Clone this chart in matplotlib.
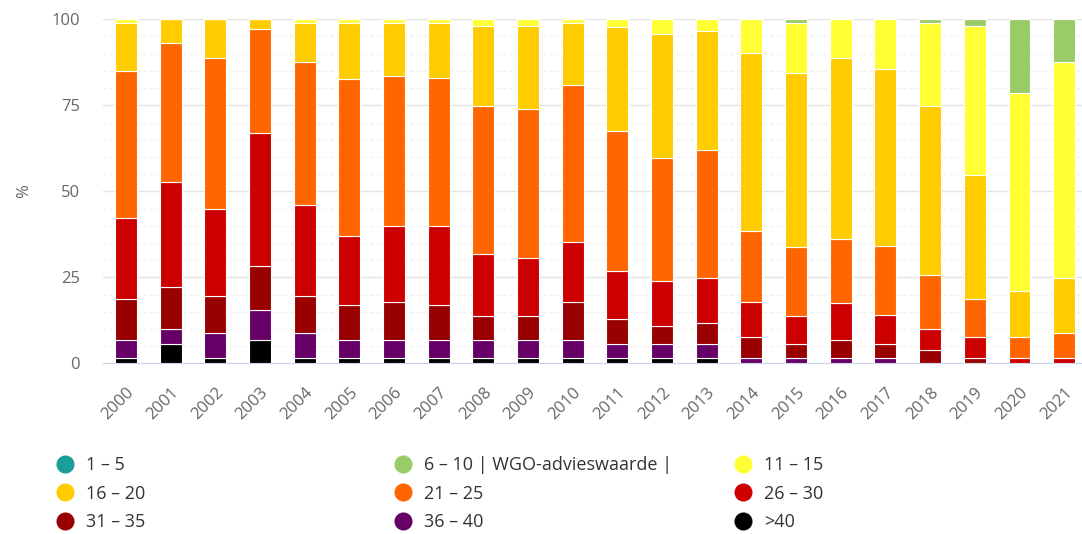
import matplotlib.pyplot as plt
from matplotlib.lines import Line2D
import numpy as np

years = [str(y) for y in range(2000, 2022)]

# share (%) per class, bottom of the stack first
gt40 = [1.6, 5.8, 1.6, 6.8, 1.6, 1.6, 1.6, 1.6, 1.6, 1.6, 1.6, 1.6, 1.6, 1.6,
        0, 0, 0, 0, 0, 0, 0, 0]
c36_40 = [5.2, 4.2, 7.4, 8.7, 7.4, 5.2, 5.2, 5.2, 5.2, 5.2, 5.2, 4.2, 4.2, 4.2,
          1.6, 1.6, 1.6, 1.6, 0, 0, 0, 0]
c31_35 = [11.9, 12.1, 10.7, 12.9, 10.7, 10.2, 11.1, 10.2, 7.1, 7.1, 11.1, 7.0, 5.1, 6.1,
          6.0, 4.2, 5.2, 4.2, 3.9, 1.6, 0, 0]
c26_30 = [23.5, 30.7, 25.2, 38.7, 26.3, 20.1, 22.0, 22.9, 17.8, 16.8, 17.5, 14.1, 13.0, 12.8,
          10.3, 8.0, 10.9, 8.3, 6.0, 6.0, 1.6, 1.6]
c21_25 = [42.9, 40.2, 43.8, 30.0, 41.7, 45.6, 43.6, 42.9, 43.2, 43.2, 45.5, 40.6, 35.9, 37.3,
          20.7, 19.9, 18.4, 20.1, 15.8, 11.1, 6.2, 7.4]
c16_20 = [13.7, 7.0, 11.3, 2.9, 11.3, 16.1, 15.3, 16.0, 23.1, 24.1, 17.9, 30.3, 35.8, 34.6,
          51.5, 50.8, 52.6, 51.4, 49.1, 36.0, 13.3, 15.7]
c11_15 = [1.2, 0, 0, 0, 1.0, 1.2, 1.2, 1.2, 2.0, 2.0, 1.2, 2.2, 4.4, 3.4,
          9.9, 14.5, 11.3, 14.4, 24.2, 43.3, 57.4, 63.0]
c6_10 = [0, 0, 0, 0, 0, 0, 0, 0, 0, 0, 0, 0, 0, 0,
         0, 1.0, 0, 0, 1.0, 2.0, 21.5, 12.3]
c1_5 = [0] * 22

series = [
    (">40", gt40, "#000000"),
    ("36 – 40", c36_40, "#660066"),
    ("31 – 35", c31_35, "#990000"),
    ("26 – 30", c26_30, "#cc0000"),
    ("21 – 25", c21_25, "#ff6600"),
    ("16 – 20", c16_20, "#ffcc00"),
    ("11 – 15", c11_15, "#ffff33"),
    ("6 – 10 | WGO-advieswaarde |", c6_10, "#99cc66"),
    ("1 – 5", c1_5, "#1a9e9a"),
]
colors = {name: col for name, _, col in series}

plt.rcParams["font.family"] = ["Open Sans", "DejaVu Sans"]

fig = plt.figure(figsize=(10.82, 5.34), dpi=100)
ax = fig.add_axes([103 / 1082, 0.3193, 1 - 103 / 1082, 0.6446])

x = np.arange(len(years))
bottom = np.zeros(len(years))
for name, vals, col in series:
    vals = np.array(vals, dtype=float)
    ax.bar(x, vals, width=0.49, bottom=bottom, color=col,
           edgecolor="white", linewidth=0.8, zorder=3)
    bottom += vals

ax.set_xlim(-0.515, 21.4)
ax.set_ylim(0, 100)
ax.set_yticks([0, 25, 50, 75, 100])
ax.set_yticks(np.arange(0, 101, 5), minor=True)
ax.grid(axis="y", which="major", color="#e3e3e3", linewidth=1, zorder=0)
ax.grid(axis="y", which="minor", color="#efefef", linewidth=0.8,
        linestyle=(0, (3, 3)), zorder=0)
ax.tick_params(axis="y", which="both", length=0, labelsize=12,
               labelcolor="#666666", pad=16.5)
ax.set_xticks(x)
ax.set_xticklabels(years, rotation=45, ha="right", va="top",
                   rotation_mode="anchor", fontsize=12, color="#666666")
ax.tick_params(axis="x", length=0, pad=15)
for side in ("top", "right", "left"):
    ax.spines[side].set_visible(False)
ax.spines["bottom"].set_color("#ccd6eb")
ax.set_ylabel("%", fontsize=12, color="#666666", labelpad=14)

# legend laid out row by row in three columns
columns = [
    ["1 – 5", "16 – 20", "31 – 35"],
    ["6 – 10 | WGO-advieswaarde |", "21 – 25", "36 – 40"],
    ["11 – 15", "26 – 30", ">40"],
]
col_x = [47 / 1082, 385 / 1082, 725 / 1082]
for cx, names in zip(col_x, columns):
    handles = [Line2D([], [], marker="o", linestyle="none", markersize=13,
                      markerfacecolor=colors[n], markeredgewidth=0)
               for n in names]
    fig.legend(handles, names, loc="upper left", bbox_to_anchor=(cx, 0.159),
               frameon=False, fontsize=13, labelcolor="#333333",
               handletextpad=0.58, labelspacing=0.58, borderaxespad=0,
               handlelength=1.2)

fig.savefig("out.png", dpi=100, facecolor="white")
